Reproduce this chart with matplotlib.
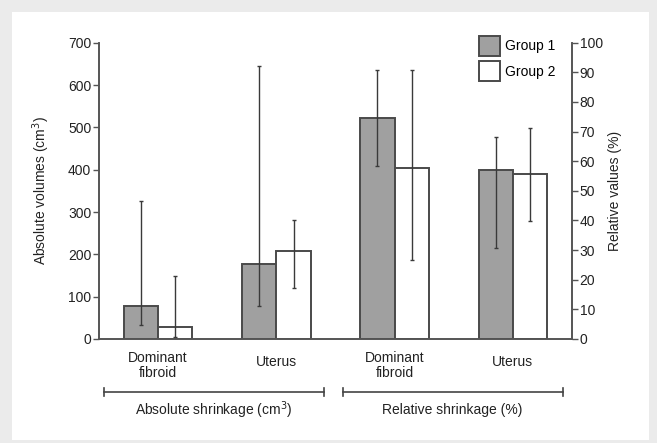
import matplotlib.pyplot as plt
import numpy as np
from matplotlib.patches import Rectangle, Patch

plt.rcParams["font.family"] = ["Liberation Sans", "DejaVu Sans"]
plt.rcParams["font.size"] = 10

categories = ["Dominant\nfibroid", "Uterus"]

# absolute shrinkage (cm3), left axis
abs_g1 = [78, 178]
abs_g1_lo = [33, 78]
abs_g1_hi = [325, 645]
abs_g2 = [29, 208]
abs_g2_lo = [5, 120]
abs_g2_hi = [150, 281]

# relative shrinkage (%), right axis
rel_g1 = [74.5, 57]
rel_g1_lo = [58.5, 30.7]
rel_g1_hi = [90.8, 68.3]
rel_g2 = [57.7, 55.7]
rel_g2_lo = [26.7, 39.8]
rel_g2_hi = [90.8, 71.3]

c_fill = "#a0a0a0"
c_edge = "#4a4a4a"
c_err = "#3a3a3a"
c_txt = "#222222"

fig = plt.figure(figsize=(6.57, 4.43), dpi=100, facecolor="#ebebeb")
fig.add_artist(Rectangle((12 / 657, 3 / 443), 637 / 657, 428 / 443,
                         transform=fig.transFigure, facecolor="white",
                         edgecolor="none", zorder=-10))

ax = fig.add_axes([99 / 657, 104 / 443, 473 / 657, 296.3 / 443])
ax.set_facecolor("none")
ax2 = ax.twinx()

w = 0.29
x_abs = np.arange(2)
x_rel = np.arange(2) + 2


def draw(axis, x, g1, lo1, hi1, g2, lo2, hi2):
    g1, lo1, hi1 = map(np.array, (g1, lo1, hi1))
    g2, lo2, hi2 = map(np.array, (g2, lo2, hi2))
    axis.bar(x - w / 2, g1, w, color=c_fill, edgecolor=c_edge, linewidth=1.4, zorder=2)
    axis.bar(x + w / 2, g2, w, color="white", edgecolor=c_edge, linewidth=1.4, zorder=2)
    axis.errorbar(x - w / 2, g1, yerr=[g1 - lo1, hi1 - g1], fmt="none",
                  ecolor=c_err, elinewidth=1, capsize=1.5, capthick=1, zorder=3)
    axis.errorbar(x + w / 2, g2, yerr=[g2 - lo2, hi2 - g2], fmt="none",
                  ecolor=c_err, elinewidth=1, capsize=1.5, capthick=1, zorder=3)


draw(ax, x_abs, abs_g1, abs_g1_lo, abs_g1_hi, abs_g2, abs_g2_lo, abs_g2_hi)
draw(ax2, x_rel, rel_g1, rel_g1_lo, rel_g1_hi, rel_g2, rel_g2_lo, rel_g2_hi)

ax.set_xlim(-0.5, 3.5)
ax.set_ylim(0, 700)
ax2.set_ylim(0, 100)
ax.set_yticks(range(0, 701, 100))
ax2.set_yticks(range(0, 101, 10))
ax.set_xticks([])

for a in (ax, ax2):
    a.spines["top"].set_visible(False)
    for s in ("left", "right", "bottom"):
        a.spines[s].set_color("#555555")
        a.spines[s].set_linewidth(1.2)
    a.tick_params(axis="y", length=4, width=1, color="#555555", pad=1.5,
                  labelsize=10, labelcolor=c_txt)

ax.set_ylabel("Absolute volumes (cm$^3$)", fontsize=10, color=c_txt)
ax.yaxis.set_label_coords(-0.1, 0.5)
ax2.set_ylabel("Relative values (%)", fontsize=10, color=c_txt, rotation=90)
ax2.yaxis.set_label_coords(1.076, 0.5)

# category labels under the bars
trans = ax.get_xaxis_transform()
for xs in (x_abs, x_rel):
    for xi, lab in zip(xs, categories):
        yy = -0.088 if "\n" in lab else -0.078
        ax.text(xi, yy, lab, transform=trans, ha="center", va="center",
                fontsize=10, color=c_txt, linespacing=1.1)

# group brackets
brackets = [(-0.458, 1.40, "Absolute shrinkage (cm$^3$)"),
            (1.56, 3.42, "Relative shrinkage (%)")]
yb = -0.178
for x0, x1, lab in brackets:
    ax.plot([x0, x1], [yb, yb], transform=trans, color="#444444", lw=1.2, clip_on=False)
    for xe in (x0, x1):
        ax.plot([xe, xe], [yb - 0.013, yb + 0.013], transform=trans,
                color="#444444", lw=1.2, clip_on=False)
    ax.text((x0 + x1) / 2, -0.24, lab, transform=trans, ha="center", va="center",
            fontsize=10, color=c_txt)

handles = [Patch(facecolor=c_fill, edgecolor=c_edge, linewidth=1.4, label="Group 1"),
           Patch(facecolor="white", edgecolor=c_edge, linewidth=1.4, label="Group 2")]
ax2.legend(handles=handles, loc="upper left", bbox_to_anchor=(479 / 657, 1 - 36 / 443),
           bbox_transform=fig.transFigure, frameon=False, fontsize=10,
           handlelength=1.5, handleheight=1.84, handletextpad=0.4,
           labelspacing=0.38, borderpad=0, borderaxespad=0)

fig.savefig("out.png", dpi=100, facecolor=fig.get_facecolor())
